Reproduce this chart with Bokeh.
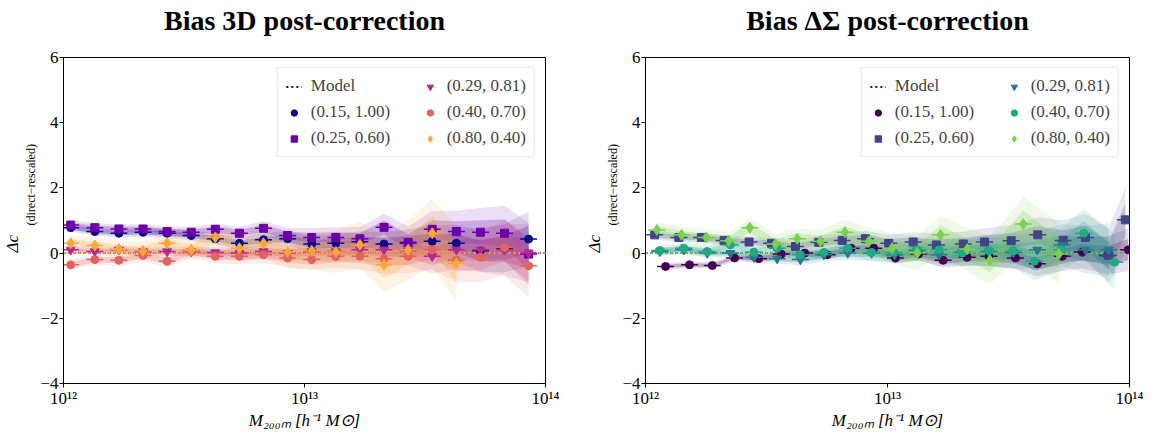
import numpy as np
from bokeh.plotting import figure
from bokeh.layouts import row
from bokeh.models import FixedTicker, Legend, LegendItem, Title, Range1d
from bokeh.embed import file_html
from bokeh.resources import INLINE

FONT = "Liberation Serif"

# ---------------- axes ----------------
MASS_TICKS = [1e12, 1e13, 1e14]
MASS_TICK_LABELS = ["10¹²", "10¹³", "10¹⁴"]
Y_TICKS = [-4, -2, 0, 2, 4, 6]
Y_TICK_LABELS = ["−4", "−2", "0", "2", "4", "6"]
TITLES = ["Bias 3D post-correction", "Bias ΔΣ post-correction"]
LABELS = ["(0.15, 1.00)", "(0.25, 0.60)", "(0.29, 0.81)", "(0.40, 0.70)", "(0.80, 0.40)"]
MARKERS = ["circle", "square", "inverted_triangle", "circle", "diamond"]
COLORS_3D = ["#0d0887", "#6a00a8", "#b12a90", "#e16462", "#fca636"]
COLORS_DS = ["#440154", "#414487", "#2a788e", "#22a884", "#7ad151"]

# model curve (zero bias)
MODEL_LOGM = [12.0, 14.0]
MODEL_DC = [0.0, 0.0]

# ---------------- left panel: Bias 3D ----------------
LOGM_3D = [12.03, 12.13, 12.23, 12.33, 12.43, 12.53, 12.63, 12.73, 12.83, 12.93,
           13.03, 13.13, 13.23, 13.33, 13.43, 13.53, 13.63, 13.73, 13.83, 13.93]
DC_3D_A = [0.78, 0.66, 0.61, 0.64, 0.61, 0.54, 0.44, 0.30, 0.41, 0.44,
           0.28, 0.30, 0.35, 0.28, 0.31, 0.36, 0.30, 0.07, 0.15, 0.43]
DC_3D_B = [0.86, 0.78, 0.74, 0.74, 0.66, 0.64, 0.73, 0.61, 0.76, 0.54,
           0.48, 0.48, 0.44, 0.79, 0.33, 0.73, 0.66, 0.64, 0.61, -0.03]
DC_3D_C = [0.10, 0.05, 0.10, 0.05, 0.05, 0.05, 0.02, 0.00, 0.05, 0.00,
           0.05, 0.05, 0.10, 0.10, 0.08, -0.10, 0.10, 0.10, 0.10, 0.00]
DC_3D_D = [-0.36, -0.20, -0.22, -0.07, -0.25, 0.05, -0.10, -0.10, -0.05, -0.15,
           -0.20, -0.10, -0.10, -0.17, -0.10, 0.10, -0.22, -0.13, 0.17, -0.39]
DC_3D_E = [0.30, 0.23, 0.12, 0.07, 0.30, 0.10, 0.48, 0.15, 0.30, 0.03,
           0.07, 0.03, 0.25, -0.36, 0.10, 0.61, -0.31]
ERR_3D_A = [0.06, 0.06, 0.06, 0.07, 0.07, 0.08, 0.08, 0.09, 0.10, 0.11,
            0.12, 0.14, 0.16, 0.18, 0.21, 0.24, 0.28, 0.32, 0.37, 0.42]
ERR_3D_B = [0.07, 0.07, 0.07, 0.07, 0.08, 0.08, 0.09, 0.10, 0.11, 0.12,
            0.14, 0.16, 0.18, 0.21, 0.24, 0.28, 0.32, 0.37, 0.42, 0.48]
ERR_3D_C = [0.05, 0.05, 0.06, 0.06, 0.07, 0.07, 0.08, 0.09, 0.10, 0.11,
            0.13, 0.15, 0.17, 0.20, 0.23, 0.26, 0.30, 0.34, 0.39, 0.45]
ERR_3D_D = [0.08, 0.08, 0.09, 0.09, 0.10, 0.10, 0.11, 0.12, 0.13, 0.14,
            0.16, 0.18, 0.20, 0.23, 0.26, 0.30, 0.34, 0.38, 0.43, 0.48]
ERR_3D_E = [0.12, 0.12, 0.13, 0.14, 0.15, 0.16, 0.18, 0.20, 0.22, 0.25,
            0.28, 0.32, 0.36, 0.41, 0.46, 0.52, 0.58]

# ---------------- right panel: Bias DeltaSigma ----------------
LOGM_DS_A = [12.083, 12.182, 12.276, 12.368, 12.468, 12.561, 12.658, 12.751, 12.850, 12.943, 13.033,
             13.129, 13.230, 13.329, 13.419, 13.529, 13.619, 13.722, 13.805, 13.910, 13.995]
DC_DS_A = [-0.41, -0.36, -0.38, -0.15, -0.17, -0.03, 0.00, -0.05, 0.15, 0.15, -0.15,
           -0.03, -0.22, -0.13, -0.10, -0.15, -0.33, -0.10, 0.03, -0.07, 0.10]
ERR_DS_A = [0.05, 0.05, 0.05, 0.05, 0.06, 0.06, 0.06, 0.07, 0.08, 0.08, 0.09,
            0.10, 0.11, 0.13, 0.15, 0.17, 0.19, 0.22, 0.25, 0.29, 0.33]
LOGM_DS_B = [12.038, 12.138, 12.231, 12.325, 12.428, 12.521, 12.620, 12.716, 12.813, 12.909, 13.005,
             13.106, 13.202, 13.313, 13.401, 13.511, 13.621, 13.726, 13.818, 13.914, 13.983]
DC_DS_B = [0.56, 0.48, 0.48, 0.39, 0.34, 0.30, 0.20, 0.33, 0.39, 0.44, 0.30,
           0.34, 0.25, 0.28, 0.34, 0.38, 0.56, 0.39, 0.48, -0.07, 1.02]
ERR_DS_B = [0.07, 0.07, 0.07, 0.08, 0.08, 0.09, 0.09, 0.10, 0.11, 0.12, 0.13,
            0.15, 0.17, 0.19, 0.21, 0.24, 0.27, 0.31, 0.36, 0.42, 0.50]
LOGM_DS_C = [12.059, 12.158, 12.255, 12.351, 12.448, 12.544, 12.640, 12.737, 12.836, 12.934,
             13.030, 13.123, 13.213, 13.309, 13.419, 13.520, 13.619, 13.722, 13.818, 13.914]
DC_DS_C = [0.05, 0.10, 0.00, 0.00, -0.13, -0.17, -0.20, -0.05, 0.00, 0.00,
           -0.05, 0.08, -0.05, 0.03, 0.05, 0.02, 0.10, 0.25, 0.10, 0.10]
ERR_DS_C = [0.06, 0.06, 0.07, 0.07, 0.08, 0.08, 0.09, 0.10, 0.11, 0.12,
            0.13, 0.15, 0.17, 0.19, 0.22, 0.25, 0.28, 0.32, 0.36, 0.41]
LOGM_DS_D = [12.059, 12.158, 12.255, 12.351, 12.448, 12.544, 12.640, 12.737, 12.836, 12.934,
             13.026, 13.123, 13.213, 13.309, 13.419, 13.520, 13.607, 13.718, 13.811, 13.939]
DC_DS_D = [0.08, 0.15, 0.05, 0.25, 0.03, 0.15, -0.05, 0.02, 0.15, 0.02,
           0.02, 0.10, 0.10, 0.00, 0.07, 0.07, -0.25, 0.10, 0.61, -0.28]
ERR_DS_D = [0.08, 0.08, 0.08, 0.09, 0.09, 0.10, 0.10, 0.11, 0.12, 0.13,
            0.14, 0.16, 0.18, 0.20, 0.23, 0.26, 0.29, 0.33, 0.37, 0.42]
LOGM_DS_E = [12.047, 12.149, 12.251, 12.344, 12.431, 12.537, 12.627, 12.723, 12.824,
             12.923, 13.019, 13.123, 13.219, 13.329, 13.423, 13.561, 13.708]
DC_DS_E = [0.71, 0.56, 0.48, 0.38, 0.78, 0.28, 0.44, 0.36, 0.64,
           0.36, 0.15, 0.00, 0.56, 0.12, -0.22, 0.89, -0.03]
ERR_DS_E = [0.12, 0.12, 0.13, 0.13, 0.14, 0.15, 0.16, 0.17, 0.19,
            0.21, 0.23, 0.26, 0.29, 0.33, 0.37, 0.42, 0.47]

XERR_DEX = 0.035
MARKER_SIZES = [8, 8, 9, 8, 11]
COL_PAD = "\u2003\u2002"   # widens the first legend column


def make_panel(title, logms, dcs, errs, colors, border_left, frame_w, border_right):
    p = figure(frame_width=frame_w, frame_height=326,
               min_border_left=border_left, min_border_right=border_right,
               min_border_top=57, min_border_bottom=51,
               x_axis_type="log", x_range=Range1d(1e12, 1e14), y_range=Range1d(-4, 6),
               output_backend="svg", toolbar_location=None)
    # spacer between the frame and the title, so the title sits near the top
    p.add_layout(Title(text=" ", text_font_size="1px", standoff=17), "above")
    p.title.text = title
    p.title.align = "center"
    p.title.text_font = FONT
    p.title.text_font_size = "28px"
    p.title.text_font_style = "bold"
    p.title.text_color = "black"
    p.title.standoff = 4
    p.grid.visible = False
    p.outline_line_color = "black"
    p.outline_line_alpha = 1.0
    p.outline_line_width = 1
    p.background_fill_color = "white"
    p.border_fill_color = "white"

    # bands
    for lm, dc, er, c in zip(logms, dcs, errs, colors):
        x = 10 ** np.array(lm)
        y = np.array(dc)
        e = np.array(er)
        p.varea(x=x, y1=y - 2 * e, y2=y + 2 * e, fill_color=c, fill_alpha=0.13)
        p.varea(x=x, y1=y - e, y2=y + e, fill_color=c, fill_alpha=0.24)

    # model lines
    model_rs = []
    for c in colors:
        r = p.line(10 ** np.array(MODEL_LOGM), MODEL_DC, line_color=c,
                   line_dash="2 3", line_width=2)
        model_rs.append(r)

    # points
    scat = []
    for lm, dc, c, m, s in zip(logms, dcs, colors, MARKERS, MARKER_SIZES):
        lm = np.array(lm)
        p.segment(x0=10 ** (lm - XERR_DEX), y0=dc, x1=10 ** (lm + XERR_DEX), y1=dc,
                  line_color=c, line_width=1.5)
        r = p.scatter(10 ** lm, dc, marker=m, size=s, fill_color=c, line_color=c)
        scat.append(r)

    items = [LegendItem(label="Model" + COL_PAD, renderers=[model_rs[0]])]
    for k, (lbl, r) in enumerate(zip(LABELS, scat)):
        items.append(LegendItem(label=lbl + (COL_PAD if k < 2 else ""), renderers=[r]))
    leg = Legend(items=items, location="top_right", ncols=2, orientation="vertical",
                 label_text_font=FONT, label_text_font_size="17px",
                 glyph_width=16, glyph_height=17, label_height=20, label_standoff=9,
                 spacing=6, padding=8, margin=10,
                 border_line_color="#d0d0d0", border_line_width=1,
                 background_fill_alpha=0.85)
    p.add_layout(leg)

    # axes
    p.xaxis.ticker = FixedTicker(ticks=MASS_TICKS, minor_ticks=[])
    p.xaxis.major_label_overrides = dict(zip(MASS_TICKS, MASS_TICK_LABELS))
    p.yaxis.ticker = FixedTicker(ticks=Y_TICKS, minor_ticks=[])
    p.yaxis.major_label_overrides = dict(zip(Y_TICKS, Y_TICK_LABELS))
    for ax in (p.xaxis, p.yaxis):
        ax.axis_line_color = "black"
        ax.major_tick_line_color = "black"
        ax.major_tick_in = 0
        ax.major_tick_out = 4
        ax.minor_tick_line_color = None
        ax.major_label_text_font = FONT
        ax.major_label_text_font_size = "17px"
        ax.major_label_text_color = "black"
    p.xaxis.major_label_standoff = 1
    p.yaxis.major_label_standoff = 1
    p.yaxis.axis_label_standoff = 0
    p.xaxis.axis_label = "M₂₀₀ₘ [h⁻¹ M⊙]"
    p.xaxis.axis_label_text_font = FONT
    p.xaxis.axis_label_text_font_size = "17px"
    p.xaxis.axis_label_text_font_style = "italic"
    p.xaxis.axis_label_text_color = "black"
    p.xaxis.axis_label_standoff = 0

    # y label: "Δc" with a "(direct−rescaled)" subscript, as two stacked side titles
    sub = Title(text="(direct−rescaled)", align="left", offset=158, standoff=0,
                text_font=FONT, text_font_size="12px", text_font_style="normal",
                text_color="black")
    main = Title(text="Δc", align="left", offset=131, standoff=0,
                 text_font=FONT, text_font_size="17px", text_font_style="italic",
                 text_color="black")
    p.add_layout(sub, "left")
    p.add_layout(main, "left")
    return p


p1 = make_panel(TITLES[0],
                [LOGM_3D] * 4 + [LOGM_3D[:len(DC_3D_E)]],
                [DC_3D_A, DC_3D_B, DC_3D_C, DC_3D_D, DC_3D_E],
                [ERR_3D_A, ERR_3D_B, ERR_3D_C, ERR_3D_D, ERR_3D_E],
                COLORS_3D, 63, 482, 34)
p2 = make_panel(TITLES[1],
                [LOGM_DS_A, LOGM_DS_B, LOGM_DS_C, LOGM_DS_D, LOGM_DS_E],
                [DC_DS_A, DC_DS_B, DC_DS_C, DC_DS_D, DC_DS_E],
                [ERR_DS_A, ERR_DS_B, ERR_DS_C, ERR_DS_D, ERR_DS_E],
                COLORS_DS, 66, 484, 29)

layout = row(p1, p2)
open("out.html", "w").write(file_html(layout, INLINE))
